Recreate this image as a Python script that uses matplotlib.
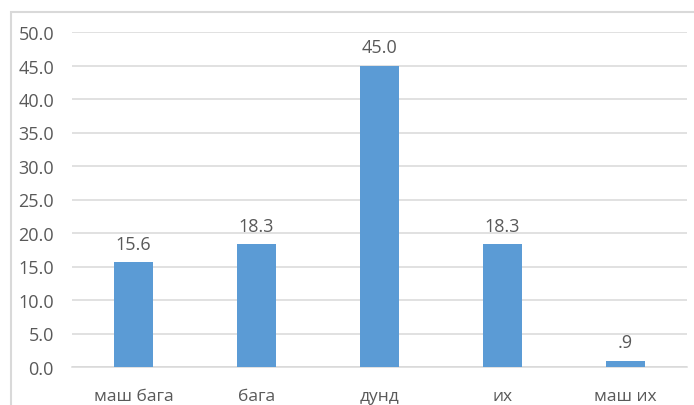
import matplotlib
matplotlib.use("Agg")
import matplotlib.pyplot as plt
from matplotlib.patches import Rectangle

categories = ["маш бага", "бага", "дунд", "их", "маш их"]
values = [15.6, 18.3, 45.0, 18.3, 0.9]
value_labels = ["15.6", "18.3", "45.0", "18.3", ".9"]
yticks = [0, 5, 10, 15, 20, 25, 30, 35, 40, 45, 50]

plt.rcParams["font.family"] = ["Open Sans", "DejaVu Sans"]
text_color = "#595959"
grid_color = "#D9D9D9"
bar_color = "#5B9BD5"

W, H = 694, 406
fig = plt.figure(figsize=(W / 100, H / 100), dpi=100)

# outer chart frame
fig.patches.append(Rectangle((11 / W, -0.1), 1.1, 1 - 13 / H + 0.1,
                             transform=fig.transFigure, fill=False,
                             edgecolor=grid_color, linewidth=1.5))

ax = fig.add_axes([72 / W, (H - 368) / H, (687 - 72) / W, (368 - 33) / H])
x = list(range(len(categories)))
ax.bar(x, values, width=0.31, color=bar_color, zorder=3)
ax.set_xlim(-0.5, len(categories) - 0.5)
ax.set_ylim(0, 50)
ax.set_yticks(yticks)
ax.set_yticklabels([f"{v:.1f}" for v in yticks])
ax.set_xticks(x)
ax.set_xticklabels(categories)
ax.tick_params(axis="both", length=0, colors=text_color)
ax.tick_params(axis="y", pad=13, labelsize=13)
ax.tick_params(axis="x", pad=15, labelsize=12.5)
ax.grid(axis="y", color=grid_color, linewidth=1.1, zorder=0)
for s in ["top", "right", "left"]:
    ax.spines[s].set_visible(False)
ax.spines["bottom"].set_color(grid_color)
ax.spines["bottom"].set_linewidth(1.1)

for xi, v, lab in zip(x, values, value_labels):
    ax.annotate(lab, (xi, v), xytext=(0, 7), textcoords="offset points",
                ha="center", va="bottom", color=text_color, fontsize=13)

fig.savefig("out.png", dpi=100)
